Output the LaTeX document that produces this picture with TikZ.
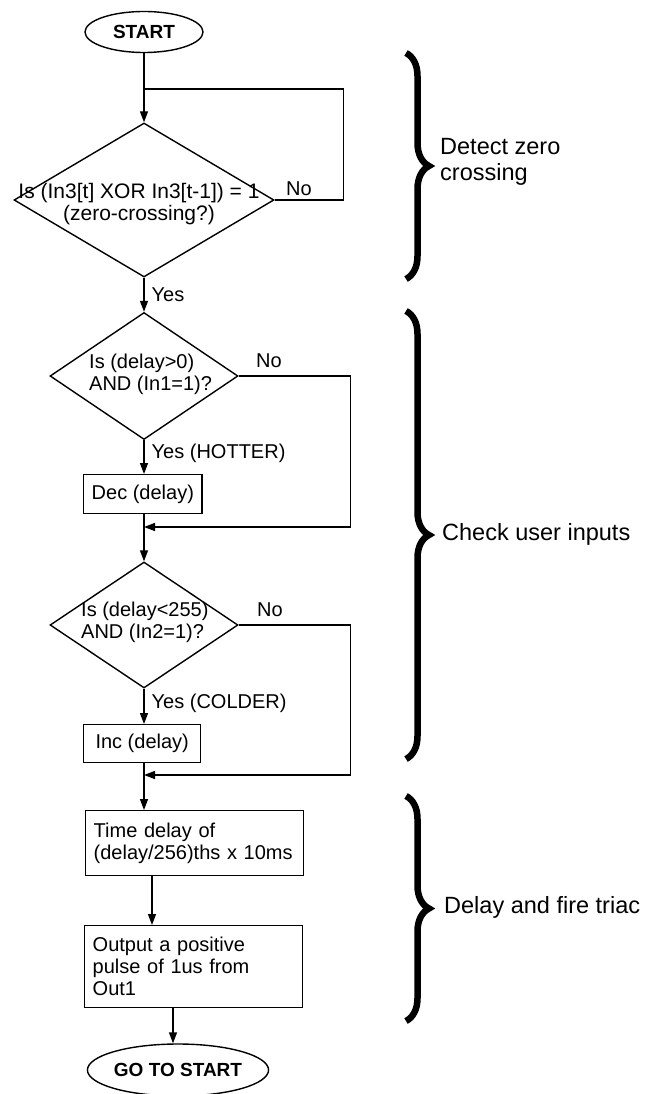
\documentclass[tikz,border=0pt]{standalone}
\usepackage{fontspec}
\setmainfont{Liberation Sans}
\usetikzlibrary{shapes.geometric,arrows.meta,decorations.pathreplacing}
\begin{document}
\begin{tikzpicture}[x=1pt,y=-1pt,
  every node/.style={font=\fontsize{20}{22}\selectfont},
  flow/.style={line width=1.4pt},
  arr/.style={flow,-{Triangle[length=11pt,width=8pt]}},
  term/.style={ellipse,draw,line width=1.4pt,inner sep=0pt,font=\fontsize{19}{22}\selectfont\bfseries},
  diam/.style={diamond,draw,line width=1.4pt,inner sep=0pt},
  box/.style={rectangle,draw,line width=1.4pt,align=left,inner xsep=8pt,inner ysep=0pt,anchor=north west},
  lbl/.style={inner sep=0pt},
  side/.style={inner sep=0pt,anchor=west,align=left,font=\fontsize{23.5}{26}\selectfont},
  brc/.style={decorate,decoration={brace,amplitude=23pt},line width=6.5pt}]
\useasboundingbox (0,0) rectangle (645,1094);
% top
\node[term,minimum width=118pt,minimum height=41pt] (start) at (144,32) {START};
\node[diam,minimum width=260pt,minimum height=154pt] (d1) at (144,200) {};
\node[lbl,align=center,font=\fontsize{21}{22}\selectfont] (t1) at (139,204) {Is (In3[t] XOR In3[t-1]) = 1\\(zero-crossing?)};
\coordinate (j1) at (144,89);
\draw[arr] (start) -- (d1.north);
\draw[flow] (d1.east) -- ++(69,0) |- (j1);
\node[lbl] (no1) at (299,189) {No};
% second decision
\node[diam,minimum width=188pt,minimum height=127pt] (d2) at (144,376) {};
\node[lbl,align=left,anchor=west] (t2) at (89,374) {Is (delay>0)\\AND (In1=1)?};
\draw[arr] (d1.south) -- node[lbl,right=7pt,pos=0.5] (yes1) {Yes} (d2.north);
\node[box,minimum width=116pt,minimum height=39pt] (decb) at (83,474) {Dec (delay)};
\draw[arr] (d2.south) -- node[lbl,right=7pt,pos=0.4] (yes2) {Yes (HOTTER)} (d2.south |- decb.north);
\coordinate (m1) at (144,527);
\draw[arr] (d2.east) -- ++(112,0) |- (m1);
\node[lbl] (no2) at (269,361) {No};
% third decision
\node[diam,minimum width=188pt,minimum height=126pt] (d3) at (144,625) {};
\node[lbl,align=left,anchor=west] (t3) at (81,622) {Is (delay<255)\\AND (In2=1)?};
\draw[flow] (d2.south |- decb.south) -- (m1);
\draw[arr] (m1) -- (d3.north);
\node[box,minimum width=117pt,minimum height=38pt] (incb) at (83,724) {Inc (delay)};
\draw[arr] (d3.south) -- node[lbl,right=7pt,pos=0.4] (yes3) {Yes (COLDER)} (d3.south |- incb.north);
\coordinate (m2) at (144,775);
\draw[arr] (d3.east) -- ++(112,0) |- (m2);
\node[lbl] (no3) at (270,610) {No};
\draw[flow] (d3.south |- incb.south) -- (m2);
% delay and fire
\node[box,text width=202pt,minimum height=65pt] (timeb) at (85,810) {Time delay of\\(delay/256)ths x 10ms};
\draw[arr] (m2) -- (m2 |- timeb.north);
\node[box,text width=202pt,minimum height=82pt] (outb) at (84,925) {Output a positive\\pulse of 1us from\\Out1};
\draw[arr] ([xshift=67pt]timeb.south west) -- ([xshift=67pt]timeb.south west |- outb.north);
\node[term,minimum width=162pt,minimum height=52pt] (endn) at (178,1070) {GO TO START};
\draw[arr] ([xshift=89pt]outb.south west) -- ([xshift=89pt]outb.south west |- endn.north);
% braces
\draw[brc] (406,53) -- (406,279);
\node[side] (b1) at (440,162) {Detect zero\\crossing};
\draw[brc] (406,311) -- (406,759);
\node[side] (b2) at (442,534) {Check user inputs};
\draw[brc] (406,796) -- (406,1021);
\node[side] (b3) at (444,907) {Delay and fire triac};
\end{tikzpicture}
\end{document}
